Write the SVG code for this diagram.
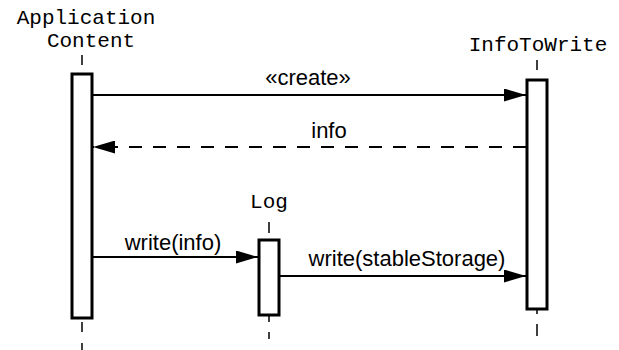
<svg xmlns="http://www.w3.org/2000/svg" width="619" height="350" viewBox="0 0 619 350">
  <defs>
    <style>
      .name { font-family: "Liberation Mono", "Courier New", monospace; font-size: 21px; fill: #000; text-anchor: middle; }
      .msg { font-family: "Liberation Sans", Arial, sans-serif; font-size: 22px; fill: #000; text-anchor: middle; }
      .act { fill: #fff; stroke: #000; stroke-width: 3; }
      .life { stroke: #000; stroke-width: 1.5; fill: none; }
      .call { stroke: #000; stroke-width: 2.2; fill: none; }
      .reply { stroke: #000; stroke-width: 2.2; fill: none; stroke-dasharray: 13 11; }
    </style>
    <marker id="head" viewBox="0 0 22 13" refX="22" refY="6.5" markerWidth="22" markerHeight="13" markerUnits="userSpaceOnUse" orient="auto">
      <path d="M0,0 L22,6.5 L0,13 Z" fill="#000"/>
    </marker>
  </defs>
  <rect width="619" height="350" fill="#fff"/>

  <g id="app-content">
    <text class="name" x="86" y="24">Application</text>
    <text class="name" x="91" y="47">Content</text>
    <path class="life" d="M82,55 V65 M82,322 V332 M82,343 V350"/>
    <rect class="act" x="72" y="74" width="20" height="244"/>
  </g>

  <g id="info-to-write">
    <text class="name" x="538" y="51">InfoToWrite</text>
    <path class="life" d="M537,60 V70 M537,309 V314 M537,324 V336"/>
    <rect class="act" x="527" y="80" width="20" height="229"/>
  </g>

  <g id="log">
    <text class="name" x="269" y="208">Log</text>
    <path class="life" d="M269,222 V233 M269,316 V322 M269,332 V339"/>
    <rect class="act" x="259" y="240" width="20" height="75"/>
  </g>

  <g id="connectors">
    <line class="call" x1="93" y1="95" x2="526" y2="95" marker-end="url(#head)"/>
    <text class="msg" x="308" y="85">«create»</text>
    <line class="reply" x1="526" y1="147" x2="93" y2="147" marker-end="url(#head)"/>
    <text class="msg" x="329" y="138">info</text>
    <line class="call" x1="93" y1="257" x2="258" y2="257" marker-end="url(#head)"/>
    <text class="msg" x="173" y="250">write(info)</text>
    <line class="call" x1="280" y1="276" x2="526" y2="276" marker-end="url(#head)"/>
    <text class="msg" x="407" y="266">write(stableStorage)</text>
  </g>
</svg>
